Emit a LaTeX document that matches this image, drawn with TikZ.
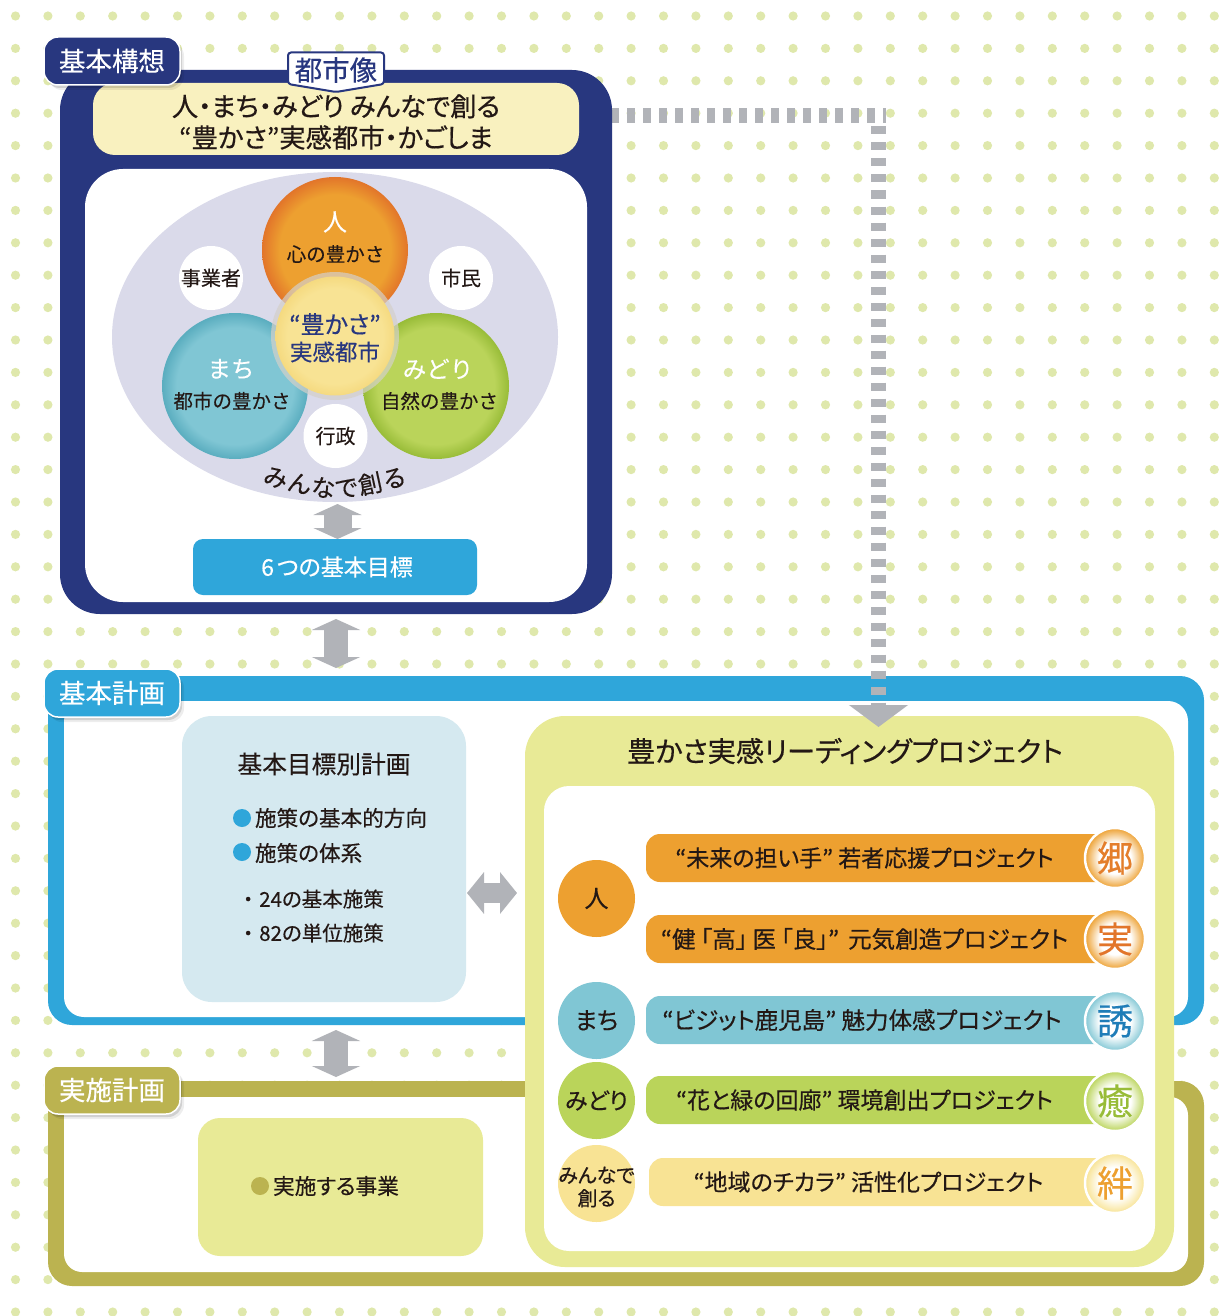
\documentclass[tikz,border=0pt]{standalone}
\usepackage{fontspec}
\setmainfont{Noto Sans CJK JP}[RawFeature=+palt]
\newfontfamily\medf{Noto Sans CJK JP}[RawFeature=+palt,FakeBold=0.4]
\newfontfamily\strongf{Noto Sans CJK JP}[RawFeature=+palt,FakeBold=0.6]
\newfontfamily\fullf{Noto Sans CJK JP}[FakeBold=0.2]
\usetikzlibrary{arrows.meta,shadows,decorations.text,shapes.geometric,shapes.misc}
\definecolor{navy}{HTML}{28377F}
\definecolor{sky}{HTML}{2FA6DA}
\definecolor{olive}{HTML}{BBB350}
\definecolor{cream}{HTML}{F9F1BF}
\definecolor{lav}{HTML}{DADAEA}
\definecolor{org}{HTML}{EDA030}
\definecolor{orgd}{HTML}{E2752A}
\definecolor{teal2}{HTML}{80C6D4}
\definecolor{teald}{HTML}{5AADBF}
\definecolor{grn}{HTML}{BAD45A}
\definecolor{grnd}{HTML}{98BC38}
\definecolor{yel}{HTML}{F8E394}
\definecolor{yeld}{HTML}{F5DA80}
\definecolor{dotc}{HTML}{DFE8AC}
\definecolor{pale}{HTML}{D5E9F0}
\definecolor{lime}{HTML}{E8EA96}
\definecolor{gry}{HTML}{B1B3B8}
\definecolor{ink}{HTML}{231815}
\definecolor{kbl}{HTML}{1F7DB8}
\definecolor{ringg}{HTML}{D4D0CA}
\pgfdeclareradialshading{rimorg}{\pgfpoint{0bp}{0bp}}{color(0bp)=(org);color(19bp)=(org);color(25bp)=(orgd);color(50bp)=(orgd)}
\pgfdeclareradialshading{rimteal}{\pgfpoint{0bp}{0bp}}{color(0bp)=(teal2);color(20bp)=(teal2);color(25bp)=(teald);color(50bp)=(teald)}
\pgfdeclareradialshading{rimgrn}{\pgfpoint{0bp}{0bp}}{color(0bp)=(grn);color(20bp)=(grn);color(25bp)=(grnd);color(50bp)=(grnd)}
\pgfdeclareradialshading{rimyel}{\pgfpoint{0bp}{0bp}}{color(0bp)=(yel);color(20bp)=(yel);color(25bp)=(yeld);color(50bp)=(yeld)}
\pgfdeclareradialshading{medorg}{\pgfpoint{0bp}{0bp}}{color(0bp)=(white);color(13bp)=(white);color(25bp)=(org);color(50bp)=(org)}
\pgfdeclareradialshading{medteal}{\pgfpoint{0bp}{0bp}}{color(0bp)=(white);color(13bp)=(white);color(25bp)=(teal2);color(50bp)=(teal2)}
\pgfdeclareradialshading{medgrn}{\pgfpoint{0bp}{0bp}}{color(0bp)=(white);color(13bp)=(white);color(25bp)=(grn);color(50bp)=(grn)}
\pgfdeclareradialshading{medyel}{\pgfpoint{0bp}{0bp}}{color(0bp)=(white);color(13bp)=(white);color(25bp)=(yel);color(50bp)=(yel)}
\newcommand{\fs}[1]{\fontsize{#1}{#1}\selectfont}
\tikzset{
  panel/.style={rectangle,inner sep=0pt,outer sep=0pt,draw=none},
  tag/.style={panel,draw=white,line width=1.5pt,rounded corners=14pt,minimum width=136pt,minimum height=48pt,text=white,font=\medf\fs{26.5},
    drop shadow={shadow xshift=4pt,shadow yshift=-5pt,opacity=.07,fill=black},
    drop shadow={shadow xshift=2pt,shadow yshift=-3pt,opacity=.12,fill=black}},
  txt/.style={inner sep=0pt,outer sep=0pt,text=ink,align=center},
  disc/.style={circle,inner sep=0pt,outer sep=0pt,draw=none},
  bar/.style={panel,anchor=west,minimum height=48pt,rounded corners=14pt},
  medal/.style={disc,draw=white,line width=2.5pt,minimum size=60pt,font=\medf\fs{36},text=#1},
  twoway/.style={draw=gry,line width=#1,{Triangle[width=48pt,length=11pt]}-{Triangle[width=48pt,length=11pt]}},
  flowline/.style={draw=gry,line width=15pt,dash pattern=on 8pt off 8pt},
}
\begin{document}
\begin{tikzpicture}[x=1pt,y=-1pt]
\useasboundingbox (0,0) rectangle (1223,1316);
\fill[white] (0,0) rectangle (1223,1316);
% dots
\foreach \i in {0,...,37}\foreach \j in {0,...,40}
  \fill[dotc] ({15.5+32.4*\i},{16+32.4*\j}) circle (4.6);

% dashed link, horizontal part
\coordinate (lnkA) at (611,115.5);
\coordinate (lnkB) at (886,115.5);
\coordinate (lnkC) at (878.5,126.5);
\coordinate (lnkD) at (878.5,727);
\draw[flowline] (lnkA) -- (lnkB);

% Kihon koso
\node[panel,fill=navy,rounded corners=40pt,minimum width=552pt,minimum height=544pt] (kosoF) at (336,342) {};
\node[panel,fill=white,rounded corners=38pt,minimum width=502pt,minimum height=433pt] (kosoI) at (336,385.5) {};
\node[panel,fill=cream,rounded corners=22pt,minimum width=486pt,minimum height=72pt] (vision) at (336,119) {};
\node[txt,font=\strongf\fs{26.3},text=ink] (visionT) at (336,122) {人・まち・みどり みんなで創る\\[5pt]“豊かさ”実感都市・かごしま};
\draw[navy,line width=2pt,fill=white,line join=round,rounded corners=3pt] (288,52.5) -- (384,52.5) -- (384,84) -- (336,92) -- (288,84) -- cycle;
\node[txt,text=navy,font=\medf\fs{27.5}] (cityT) at (336,70) {都市像};
\node[tag,fill=navy] (tagKoso) at (112,61) {基本構想};

\node[panel,ellipse,fill=lav,minimum width=446pt,minimum height=330pt] (lavE) at (335,337) {};
\node[disc,shade,shading=rimorg,minimum size=146pt] (cHito) at (335,250) {};
\node[disc,shade,shading=rimteal,minimum size=146pt] (cMachi) at (235,386) {};
\node[disc,shade,shading=rimgrn,minimum size=146pt] (cMidori) at (436,386) {};
\node[disc,fill=ringg,fill opacity=.7,minimum size=128pt] (cRing) at (335,336) {};
\node[disc,shade,shading=rimyel,minimum size=119pt] (cCore) at (335,336) {};
\node[disc,fill=white,minimum size=64pt,font=\fullf\fs{20},text=ink] (cJig) at (211,278) {事業者};
\node[disc,fill=white,minimum size=64pt,font=\fullf\fs{20},text=ink] (cShi) at (461,278) {市民};
\node[disc,fill=white,minimum size=64pt,font=\fullf\fs{20},text=ink] (cGyo) at (335.5,436) {行政};
\node[txt,text=white,font=\fullf\fs{24}] (tHito) at (335,222) {人};
\node[txt,font=\fullf\fs{19.5}] (tHitoS) at (335.5,254) {心の豊かさ};
\node[txt,text=white,font=\fullf\fs{23.5}] (tMachi) at (231,369) {まち};
\node[txt,font=\fullf\fs{19.5}] (tMachiS) at (232,401) {都市の豊かさ};
\node[txt,text=white,font=\fullf\fs{23.5}] (tMidori) at (438,369) {みどり};
\node[txt,font=\fullf\fs{19.5}] (tMidoriS) at (439.5,401) {自然の豊かさ};
\node[txt,text=navy,font=\medf\fs{24}] (tCore1) at (335,324) {“豊かさ”};
\node[txt,text=navy,font=\medf\fs{22.5}] (tCore2) at (335,352) {実感都市};
\path[decorate,decoration={text along path,text align=fit to path,text color=ink,text={|\fullf\fs{24}|みんなで創る}}]
  (262,483) .. controls (334,502) .. (408,484);
\coordinate (a1t) at (337.5,504);
\coordinate (a1b) at (337.5,539);
\draw[twoway=28pt] (a1t) -- (a1b);
\node[panel,fill=sky,rounded corners=10pt,minimum width=284pt,minimum height=56pt,text=white,font=\medf\fs{23}] (goals) at (335,567) {\kern4pt 6\kern3pt つの基本目標};
\coordinate (a2t) at (336,619);
\coordinate (a2b) at (336,668);
\draw[twoway=24pt] (a2t) -- (a2b);

% Kihon keikaku
\node[panel,fill=sky,rounded corners=24pt,minimum width=1156pt,minimum height=349pt] (planF) at (626,850.5) {};
\node[panel,fill=white,rounded corners=20pt,minimum width=1124pt,minimum height=316pt] (planI) at (626,859) {};
\node[tag,fill=sky] (tagPlan) at (112,693) {基本計画};
\node[panel,fill=pale,rounded corners=30pt,minimum width=284pt,minimum height=286pt] (pMeasures) at (324,859) {};
\node[txt,font=\medf\fs{24.7}] (tMeasures) at (324,764) {基本目標別計画};
\node[disc,fill=sky,minimum size=18pt] (dot1) at (242,818) {};
\node[txt,font=\medf\fs{21.6},anchor=west] (t1) at (255,818) {施策の基本的方向};
\node[disc,fill=sky,minimum size=18pt] (dot2) at (242,852) {};
\node[txt,font=\medf\fs{21.6},anchor=west] (t2) at (255,853) {施策の体系};
\node[txt,font=\medf\fs{20.5},anchor=west] (t3) at (243,899) {・\kern6pt 24の基本施策};
\node[txt,font=\medf\fs{20.5},anchor=west] (t4) at (243,933) {・\kern6pt 82の単位施策};
\coordinate (a3l) at (467,893);
\coordinate (a3r) at (517,893);
\draw[draw=gry,line width=20pt,{Triangle[width=41pt,length=17pt]}-{Triangle[width=41pt,length=17pt]}] (a3l) -- (a3r);

% Jisshi keikaku
\node[panel,fill=olive,rounded corners=24pt,minimum width=1156pt,minimum height=205pt] (doF) at (626,1183.5) {};
\node[panel,fill=white,rounded corners=18pt,minimum width=1124pt,minimum height=175pt] (doI) at (626,1184.5) {};
\coordinate (a4t) at (336,1030);
\coordinate (a4b) at (336,1077);
\draw[twoway=24pt] (a4t) -- (a4b);
\node[tag,fill=olive] (tagDo) at (112,1090) {実施計画};
\node[panel,fill=lime,rounded corners=22pt,minimum width=285pt,minimum height=138pt] (pDo) at (340.5,1187) {};
\node[disc,fill=olive,minimum size=18pt] (dot3) at (260,1186) {};
\node[txt,font=\medf\fs{21.7},anchor=west] (t5) at (273,1186) {実施する事業};

% Leading project
\node[panel,fill=lime,rounded corners=40pt,minimum width=649pt,minimum height=551pt] (pLead) at (849.5,991.5) {};
\node[panel,fill=white,rounded corners=25pt,minimum width=611pt,minimum height=465pt] (pLeadI) at (849.5,1018.5) {};
\node[txt,font=\medf\fs{28.2}] (tLead) at (845,751) {豊かさ実感リーディングプロジェクト};
\node[disc,fill=org,minimum size=77pt,font=\medf\fs{24},text=ink] (g1) at (596.5,898.5) {人};
\node[disc,fill=teal2,minimum size=77pt,font=\medf\fs{24},text=ink] (g2) at (596.5,1020.5) {まち};
\node[disc,fill=grn,minimum size=77pt,font=\medf\fs{23},text=ink] (g3) at (596.5,1100.5) {みどり};
\node[disc,fill=yel,minimum size=77pt] (g4) at (596.5,1183.5) {};
\node[txt,font=\medf\fs{20}] (g4t) at (596.5,1187) {みんなで\\[3pt]創る};
\node[bar,fill=org,minimum width=464pt] (b1) at (646,858) {};
\node[bar,fill=org,minimum width=464pt] (b2) at (646,939) {};
\node[bar,fill=teal2,minimum width=464pt] (b3) at (646,1020) {};
\node[bar,fill=grn,minimum width=464pt] (b4) at (646,1100) {};
\node[bar,fill=yel,minimum width=461pt] (b5) at (649,1182) {};
\node[txt,font=\medf\fs{23}] (bt1) at (864.5,858) {“未来の担い手” 若者応援プロジェクト};
\node[txt,font=\medf\fs{23.5}] (bt2) at (864.5,939) {“健\kern5pt「高」\kern5pt 医\kern5pt「良」”\kern9pt 元気創造プロジェクト};
\node[txt,font=\medf\fs{23.5}] (bt3) at (862,1020) {“ビジット鹿児島” 魅力体感プロジェクト};
\node[txt,font=\medf\fs{23}] (bt4) at (864.5,1100) {“花と緑の回廊” 環境創出プロジェクト};
\node[txt,font=\medf\fs{23}] (bt5) at (868.5,1182) {“地域のチカラ” 活性化プロジェクト};
\node[medal=orgd!80!org,shade,shading=medorg] (m1) at (1115,858) {郷};
\node[medal=orgd,shade,shading=medorg] (m2) at (1115,939) {実};
\node[medal=kbl,shade,shading=medteal] (m3) at (1115,1021) {誘};
\node[medal=grnd,shade,shading=medgrn] (m4) at (1115,1101) {癒};
\node[medal=org,shade,shading=medyel] (m5) at (1115,1183) {絆};

% dashed link, vertical part with its arrowhead
\draw[flowline,-{Triangle[width=58pt,length=22pt]}] (lnkC) -- (lnkD);
\end{tikzpicture}
\end{document}
